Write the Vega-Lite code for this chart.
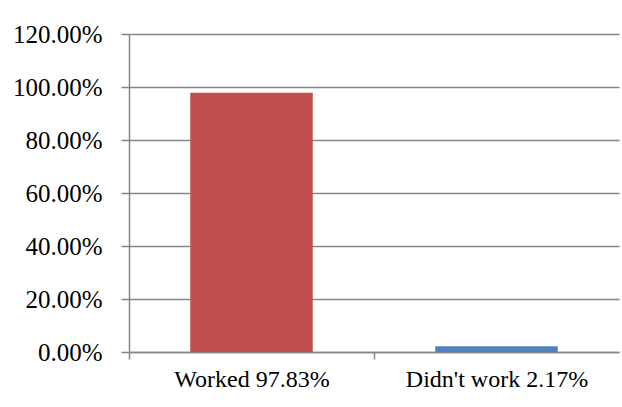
{
  "$schema": "https://vega.github.io/schema/vega-lite/v6.json",
  "width": 490,
  "height": 318,
  "autosize": {"type": "none"},
  "padding": {"left": 129, "top": 34, "right": 3, "bottom": 55},
  "background": "white",
  "config": {
    "view": {"stroke": null},
    "font": "Liberation Serif",
    "axis": {
      "labelFont": "Liberation Serif",
      "labelColor": "#000000",
      "domainColor": "#868686",
      "tickColor": "#868686",
      "gridColor": "#868686",
      "domainWidth": 1.5,
      "tickWidth": 1.5,
      "gridWidth": 1.5,
      "labelLimit": 0,
      "title": null
    }
  },
  "data": {
    "values": [
      {"category": "Worked 97.83%", "value": 0.9783, "color": "#C0504D"},
      {"category": "Didn't work 2.17%", "value": 0.0217, "color": "#4F81BD"}
    ]
  },
  "mark": {"type": "bar"},
  "encoding": {
    "x": {
      "field": "category",
      "type": "nominal",
      "sort": null,
      "scale": {"paddingInner": 0.5, "paddingOuter": 0.25},
      "axis": {
        "labelAngle": 0,
        "labelFontSize": 24,
        "tickSize": 7,
        "tickOffset": -122.5,
        "labelOffset": 122.5,
        "labelPadding": 8,
        "labelBaseline": "top",
        "grid": false
      }
    },
    "y": {
      "field": "value",
      "type": "quantitative",
      "scale": {"domain": [0, 1.2], "nice": false},
      "axis": {
        "format": ".2%",
        "labelFontSize": 25,
        "values": [0, 0.2, 0.4, 0.6, 0.8, 1.0, 1.2],
        "tickSize": 8,
        "labelPadding": 19,
        "grid": true
      }
    },
    "color": {"field": "color", "type": "nominal", "scale": null, "legend": null}
  }
}
